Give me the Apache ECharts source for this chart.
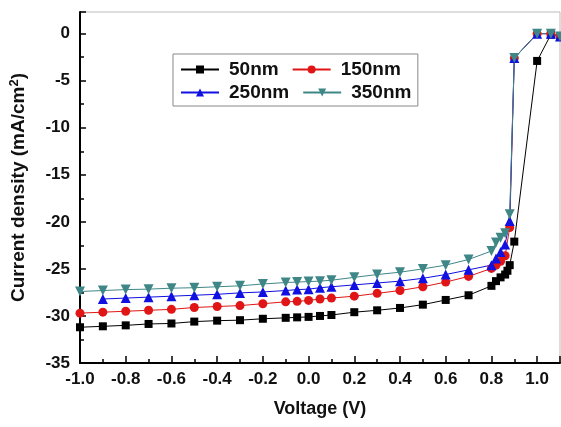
<!DOCTYPE html>
<html lang="en">
<head>
    <meta charset="UTF-8">
    <title>J-V curves</title>
    <script src="https://cdn.jsdelivr.net/npm/echarts@6/dist/echarts.min.js"></script>
    <style>
        body { margin: 0; background: #fff; }
        #chart { width: 561px; height: 427px; }
    </style>
</head>
<body>
    <div id="chart"></div>

    <script>
        // voltage points (V)
        var volt50 = [-1.0, -0.9, -0.8, -0.7, -0.6, -0.5, -0.4, -0.3, -0.2, -0.1, -0.05, 0, 0.05, 0.1,
            0.2, 0.3, 0.4, 0.5, 0.6, 0.7, 0.8, 0.82, 0.84, 0.86, 0.87, 0.88, 0.9, 1.0, 1.06, 1.1];
        var volt = [-1.0, -0.9, -0.8, -0.7, -0.6, -0.5, -0.4, -0.3, -0.2, -0.1, -0.05, 0, 0.05, 0.1,
            0.2, 0.3, 0.4, 0.5, 0.6, 0.7, 0.8, 0.82, 0.84, 0.86, 0.88, 0.9, 1.0, 1.06, 1.1];

        // current density (mA/cm2)
        var j50 = [-31.2, -31.1, -31.0, -30.85, -30.8, -30.6, -30.5, -30.45, -30.3, -30.2, -30.15, -30.1, -30.0, -29.9,
            -29.6, -29.4, -29.15, -28.8, -28.3, -27.8, -26.8, -26.3, -25.9, -25.6, -25.2, -24.6, -22.1, -2.9, -0.1, -0.3];
        var j150 = [-29.7, -29.6, -29.5, -29.4, -29.3, -29.1, -29.0, -28.9, -28.7, -28.5, -28.45, -28.35, -28.2, -28.1,
            -27.9, -27.6, -27.3, -26.9, -26.4, -25.8, -24.95, -24.6, -24.2, -23.6, -20.6, -2.6, 0, 0, -0.3];
        var j250 = [null, -28.2, -28.1, -28.0, -27.9, -27.8, -27.7, -27.55, -27.45, -27.3, -27.2, -27.15, -27.0, -26.9,
            -26.7, -26.5, -26.3, -26.0, -25.6, -25.1, -24.6, -23.9, -23.2, -22.4, -19.9, -2.6, 0, 0, -0.3];
        var j350 = [-27.4, -27.3, -27.2, -27.15, -27.05, -27.0, -26.9, -26.8, -26.6, -26.45, -26.4, -26.35, -26.3, -26.2,
            -25.9, -25.6, -25.35, -25.0, -24.6, -24.0, -23.1, -22.2, -21.7, -21.2, -19.2, -2.6, 0, 0, -0.3];

        var names = ['50nm', '150nm', '250nm', '350nm'];

        function pairs(xs, ys) {
            return xs.map(function (x, i) { return [x, ys[i]]; });
        }

        function line(name, xs, ys, color, symbol, size, rotate) {
            return {
                name: name,
                type: 'line',
                data: pairs(xs, ys),
                symbol: symbol,
                symbolSize: size,
                symbolRotate: rotate || 0,
                showAllSymbol: true,
                itemStyle: { color: color },
                lineStyle: { color: color, width: 1 },
                emphasis: { disabled: true },
                animation: false
            };
        }

        var font = 'Liberation Sans, Arial, sans-serif';
        var legendText = { fontFamily: font, fontWeight: 'bold', fontSize: 19, color: '#111', padding: [0, 0, 0, 5] };
        var chart = echarts.init(document.getElementById('chart'));

        var option = {
            backgroundColor: '#fff',
            grid: { left: 77, right: 1, top: 12, bottom: 64, show: true, borderColor: '#bbb', borderWidth: 1 },
            legend: [
                {
                    // first row, its box also frames the second row
                    data: names.slice(0, 2),
                    left: 173,
                    top: 54,
                    padding: [6, 17, 27, 7],
                    itemWidth: 38,
                    itemHeight: 10,
                    itemGap: 13,
                    borderColor: '#888',
                    borderWidth: 1,
                    backgroundColor: '#fff',
                    textStyle: legendText
                },
                {
                    data: names.slice(2),
                    left: 173,
                    top: 77,
                    padding: [6, 7, 6, 7],
                    itemWidth: 38,
                    itemHeight: 10,
                    itemGap: 13,
                    textStyle: legendText
                }
            ],
            xAxis: {
                type: 'value',
                min: -1.0,
                max: 1.1,
                interval: 0.2,
                name: 'Voltage (V)',
                nameLocation: 'middle',
                nameGap: 37,
                nameTextStyle: { fontFamily: font, fontWeight: 'bold', fontSize: 18, color: '#111' },
                axisLine: { onZero: false, lineStyle: { color: '#000', width: 2 } },
                axisTick: { inside: true, length: 7, lineStyle: { color: '#000', width: 1.5 } },
                minorTick: { show: true, splitNumber: 2, length: 4, lineStyle: { color: '#000', width: 1.5 } },
                splitLine: { show: false },
                axisLabel: {
                    showMaxLabel: false,
                    margin: 8,
                    fontFamily: font, fontWeight: 'bold', fontSize: 17, color: '#111',
                    formatter: function (v) { return v.toFixed(1); }
                }
            },
            yAxis: {
                type: 'value',
                min: -35,
                max: 2.3,
                interval: 5,
                name: '{a|Current density (mA/cm}{s|2}{a|)}',
                nameLocation: 'middle',
                nameGap: 50,
                nameTextStyle: {
                    rich: {
                        a: { fontFamily: font, fontWeight: 'bold', fontSize: 19, color: '#111' },
                        s: { fontFamily: font, fontWeight: 'bold', fontSize: 13, color: '#111', verticalAlign: 'top', padding: [0, 0, 9, 0] }
                    }
                },
                axisLine: { onZero: false, lineStyle: { color: '#000', width: 2 } },
                axisTick: { inside: true, length: 6, lineStyle: { color: '#000', width: 1.5 } },
                minorTick: { show: true, splitNumber: 2, length: 4, lineStyle: { color: '#000', width: 1.5 } },
                splitLine: { show: false },
                axisLabel: {
                    showMaxLabel: false,
                    margin: 10,
                    fontFamily: font, fontWeight: 'bold', fontSize: 17, color: '#111'
                }
            },
            series: [
                line(names[0], volt50, j50, '#000000', 'rect', 8),
                line(names[1], volt, j150, '#e01515', 'circle', 9),
                line(names[2], volt, j250, '#1010e0', 'triangle', 10),
                line(names[3], volt, j350, '#3f8787', 'triangle', 10, 180)
            ]
        };

        chart.setOption(option);
    </script>
</body>
</html>
